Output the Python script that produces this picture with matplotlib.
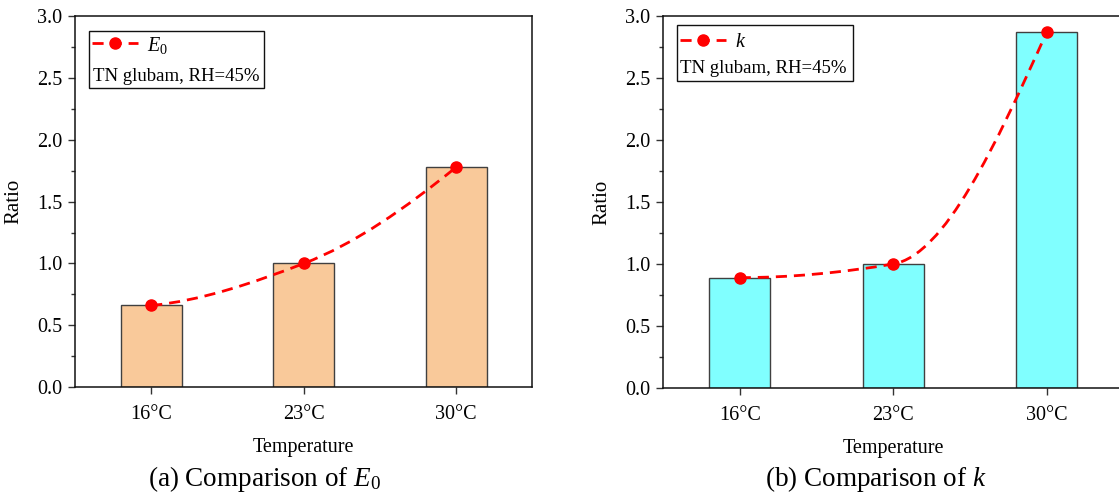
import numpy as np
import matplotlib
matplotlib.use("Agg")
import matplotlib.pyplot as plt
from matplotlib.path import Path
from matplotlib.patches import PathPatch, Rectangle
from matplotlib.lines import Line2D
from matplotlib.ticker import MultipleLocator

plt.rcParams['font.family'] = ['Liberation Serif', 'DejaVu Serif']
plt.rcParams['mathtext.fontset'] = 'custom'
plt.rcParams['mathtext.rm'] = 'Liberation Serif'
plt.rcParams['mathtext.it'] = 'Liberation Serif:italic'

temps = ['16°C', '23°C', '30°C']
ratio_E0 = [0.66, 1.00, 1.78]
ratio_k = [0.89, 1.00, 2.87]
note = 'TN glubam, RH=45%'


def pchip_slopes(x, y):
    x = np.asarray(x, float)
    y = np.asarray(y, float)
    h = np.diff(x)
    d = np.diff(y) / h
    m = np.zeros_like(y)
    for i in range(1, len(y) - 1):
        if d[i - 1] * d[i] > 0:
            w1 = 2 * h[i] + h[i - 1]
            w2 = h[i] + 2 * h[i - 1]
            m[i] = (w1 + w2) / (w1 / d[i - 1] + w2 / d[i])
    for j, (a, b, ha, hb) in enumerate([(d[0], d[1], h[0], h[1]), (d[-1], d[-2], h[-1], h[-2])]):
        s = ((2 * ha + hb) * a - ha * b) / (ha + hb)
        if np.sign(s) != np.sign(a):
            s = 0.0
        elif np.sign(a) != np.sign(b) and abs(s) > abs(3 * a):
            s = 3 * a
        m[0 if j == 0 else -1] = s
    return m


def spline_path(x, y):
    # smooth connection (cubic Bezier segments) through the data points
    m = pchip_slopes(x, y)
    verts = [(x[0], y[0])]
    codes = [Path.MOVETO]
    for i in range(len(x) - 1):
        h = x[i + 1] - x[i]
        verts += [(x[i] + h / 3, y[i] + m[i] * h / 3),
                  (x[i + 1] - h / 3, y[i + 1] - m[i + 1] * h / 3),
                  (x[i + 1], y[i + 1])]
        codes += [Path.CURVE4] * 3
    return Path(verts, codes)


def panel(ax, values, color, label, box, row1, row2, hx, tx):
    x = np.arange(len(temps))
    ax.bar(x, values, width=0.4, color=color, edgecolor='#404040', linewidth=1.0, zorder=2)
    ax.add_patch(PathPatch(spline_path(x, values), facecolor='none', edgecolor='red',
                           linewidth=2.0, linestyle=(0, (4, 2.5)), zorder=3))
    ax.plot(x, values, 'o', color='red', markersize=8, zorder=4)

    ax.set_xlim(-0.5, 2.5)
    ax.set_ylim(0, 3.0)
    ax.set_xticks(x)
    ax.set_xticklabels(temps)
    ax.yaxis.set_major_locator(MultipleLocator(0.5))
    ax.yaxis.set_minor_locator(MultipleLocator(0.25))
    ax.yaxis.set_major_formatter(matplotlib.ticker.FormatStrFormatter('%.1f'))
    ax.tick_params(axis='both', which='major', direction='out', length=5, width=1.0,
                   labelsize=14.5, color='#333333')
    ax.tick_params(axis='x', which='major', pad=8)
    ax.tick_params(axis='y', which='major', pad=4)
    ax.tick_params(axis='y', which='minor', direction='out', length=3, width=1.0, color='#333333')
    ax.tick_params(axis='x', which='minor', bottom=False)
    for s in ax.spines.values():
        s.set_linewidth(1.1)
        s.set_color('#111111')
    ax.set_xlabel('Temperature', fontsize=14.5, labelpad=10)
    ax.set_ylabel('Ratio', fontsize=15, labelpad=10)

    # legend box
    x0, y0, x1, y1 = box
    ax.add_patch(Rectangle((x0, y0), x1 - x0, y1 - y0, transform=ax.transAxes,
                           facecolor='white', edgecolor='#111111', linewidth=1.0, zorder=5))
    handle = Line2D([], [], color='red', linewidth=2.0, linestyle=(0, (4, 2.5)),
                    marker='o', markersize=8)
    leg = ax.legend([handle], [label], loc='center left', bbox_to_anchor=(hx, row1),
                    frameon=False, fontsize=14.5, handlelength=2.3, handletextpad=0.45,
                    borderpad=0, borderaxespad=0)
    leg.set_zorder(6)
    ax.text(tx, row2, note, transform=ax.transAxes, fontsize=13.5, ha='left', va='center', zorder=6)


fig = plt.figure(figsize=(11.19, 4.94), dpi=100)
ax1 = fig.add_axes([0.0670, 0.2166, 0.4088, 0.7500])
ax2 = fig.add_axes([0.5925, 0.2146, 0.4115, 0.7530])

panel(ax1, ratio_E0, '#F9C99A', r'$\mathit{E_0}$', (0.031, 0.807, 0.414, 0.961),
      0.923, 0.839, 0.037, 0.040)
panel(ax2, ratio_k, '#80FFFF', r'$\mathit{k}$', (0.030, 0.824, 0.413, 0.976),
      0.928, 0.858, 0.036, 0.036)

fig.text(0.236, 0.030, r'(a) Comparison of $E_0$', fontsize=19.5, ha='center', va='center')
fig.text(0.783, 0.030, r'(b) Comparison of $k$', fontsize=19.5, ha='center', va='center')

fig.savefig('out.png', dpi=100)
